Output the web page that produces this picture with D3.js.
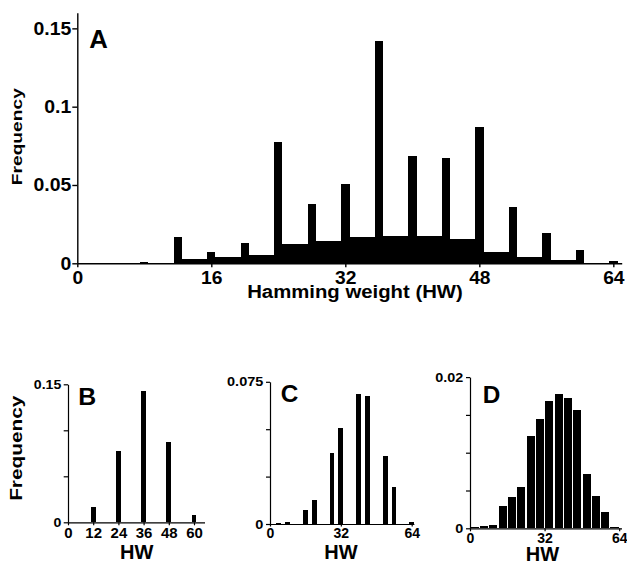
<!DOCTYPE html>
<html>
<head>
<meta charset="utf-8">
<script src="https://cdn.jsdelivr.net/npm/d3@7"></script>
<style>
body { margin: 0; background: #fff; }
text { font-family: Arial, "Liberation Sans", sans-serif; font-weight: bold; fill: #000; }
</style>
</head>
<body>
<div id="figure"></div>
<script>
//panel B: hamming weights that are multiples of 12
var hw_b = [12, 24, 36, 48, 60];
var freq_b = [0.0165, 0.0775, 0.1422, 0.0870, 0.0082];

//panel C: multiples of 4 that are not multiples of 12
var hw_c = [4, 8, 16, 20, 28, 32, 40, 44, 52, 56, 64];
var freq_c = [0.0004, 0.0009, 0.0073, 0.0128, 0.0376, 0.0505, 0.0685, 0.0673, 0.0361, 0.0194, 0.0013];

//panel D: the rest, grouped in 4-wide bins centred on 2, 6, ..., 62
var hw_d = [2, 6, 10, 14, 18, 22, 26, 30, 34, 38, 42, 46, 50, 54, 58, 62];
var freq_d = [0.00013, 0.00026, 0.00044, 0.0030, 0.0041, 0.0054, 0.0122, 0.0145, 0.0169, 0.0177, 0.0173, 0.0156, 0.0072, 0.0043, 0.0022, 0.0002];

//tick values and which of them get a label
var ticks_a_x = [0, 16, 32, 48, 64];
var ticks_a_y = [0, 0.05, 0.1, 0.15];
var ticks_b_x = [0, 12, 24, 36, 48, 60];
var ticks_b_y = [0, 0.05, 0.1, 0.15];
var labels_b_y = [0, 0.15];
var ticks_c_x = [0, 32, 64];
var ticks_c_y = [0, 0.025, 0.05, 0.075];
var labels_c_y = [0, 0.075];
var ticks_d_x = [0, 32, 64];
var ticks_d_y = [0, 0.005, 0.01, 0.015, 0.02];
var labels_d_y = [0, 0.02];

var svg;

//text with a horizontal stretch, optionally rotated
function addLabel(txt, x, y, size, sx, anchor, rotate)
{
    var t = "translate(" + x + "," + y + ")" + (rotate ? " rotate(-90)" : "") + " scale(" + sx + ",1)";
    svg.append("text")
        .attr("transform", t)
        .attr("text-anchor", anchor)
        .style("font-size", size + "px")
        .text(txt);
}

//bars for one panel: each entry has x0, x1 (in HW units) and v
function drawPanel(p)
{
    var x = d3.scaleLinear().domain([0, 65]).range(p.xr);
    var y = d3.scaleLinear().domain([0, p.ymax]).range(p.yr);
    var g = svg.append("g");

    g.selectAll("rect")
        .data(p.bars)
        .enter()
        .append("rect")
        .attr("x", function(d) { return x(d.x0); })
        .attr("width", function(d) { return x(d.x1) - x(d.x0); })
        .attr("y", function(d) { return y(d.v); })
        .attr("height", function(d) { return y(0) - y(d.v); })
        .attr("shape-rendering", "crispEdges")
        .style("fill", "#000");

    var labelled = p.ylabels;
    var yAxis = d3.axisLeft(y)
        .tickValues(p.yticks)
        .tickSize(p.ya[0])
        .tickPadding(p.ya[1])
        .tickSizeOuter(0)
        .tickFormat(function(d) { return (!labelled || labelled.indexOf(d) >= 0) ? String(d) : ""; });
    var ya = g.append("g").attr("transform", "translate(" + p.xr[0] + ",0)").call(yAxis);
    ya.selectAll("text")
        .style("font-size", p.ya[2] + "px")
        .attr("x", -(p.ya[0] + p.ya[1]) / p.ya[3])
        .attr("transform", "scale(" + p.ya[3] + ",1)");

    var xAxis = d3.axisBottom(x)
        .tickValues(p.xticks)
        .tickSize(p.xa[0])
        .tickPadding(p.xa[1])
        .tickSizeOuter(0)
        .tickFormat(d3.format("d"));
    var xa = g.append("g").attr("transform", "translate(0," + p.yr[0] + ")").call(xAxis);
    xa.selectAll("text")
        .style("font-size", p.xa[2] + "px")
        .attr("transform", "scale(" + p.xa[3] + ",1)");

    g.selectAll(".domain").attr("stroke", "#000").attr("stroke-width", p.lw);
    g.selectAll(".tick line").attr("stroke", "#000").attr("stroke-width", p.lw);
}

//narrow bars centred on each HW value
function spikes(hw, freq, w)
{
    return hw.map(function(h, i) { return {x0: h - w / 2, x1: h + w / 2, v: freq[i]}; });
}

function setUpFigure()
{
    svg = d3.select("#figure")
        .append("svg")
        .attr("width", 627)
        .attr("height", 565);

    //panel A: the grouped levels span 3 HW values, the spikes 1
    var bars_a = spikes(hw_d, freq_d, 3).concat(spikes(hw_b, freq_b, 1)).concat(spikes(hw_c, freq_c, 1));
    drawPanel({bars: bars_a, xr: [77.3, 621.7], yr: [263.3, 12.7], ymax: 0.16,
        xticks: ticks_a_x, yticks: ticks_a_y, ylabels: null,
        ya: [5, 1, 18, 1.08], xa: [4, 3.8, 17.5, 1.1], lw: 1.4});
    addLabel("A", 89.3, 48.3, 25, 1.03, "start", false);
    addLabel("Frequency", 22, 136.7, 15, 1.28, "middle", true);
    addLabel("Hamming weight (HW)", 355, 297.5, 18, 1.13, "middle", false);

    drawPanel({bars: spikes(hw_b, freq_b, 2.2), xr: [68, 204.5], yr: [522.3, 384.3], ymax: 0.15,
        xticks: ticks_b_x, yticks: ticks_b_y, ylabels: labels_b_y,
        ya: [4.3, 2.4, 12.5, 1.13], xa: [3, 3, 14, 1.07], lw: 1.2});
    addLabel("B", 78.3, 405, 23, 1.08, "start", false);
    addLabel("Frequency", 21.6, 448.3, 16, 1.3, "middle", true);
    addLabel("HW", 136.7, 558.5, 20, 1, "middle", false);

    drawPanel({bars: spikes(hw_c, freq_c, 2.2), xr: [270, 413.9], yr: [524, 381.8], ymax: 0.075,
        xticks: ticks_c_x, yticks: ticks_c_y, ylabels: labels_c_y,
        ya: [4, 2.7, 12.5, 1.16], xa: [2.5, 2, 14, 1.0], lw: 1.2});
    addLabel("C", 280.7, 401.7, 23, 1.06, "start", false);
    addLabel("HW", 341, 558.5, 20, 1, "middle", false);

    drawPanel({bars: spikes(hw_d, freq_d, 3.45), xr: [470, 621.5], yr: [528.3, 377.1], ymax: 0.02,
        xticks: ticks_d_x, yticks: ticks_d_y, ylabels: labels_d_y,
        ya: [4, 2.7, 12.5, 1.15], xa: [3, 1.5, 14, 1.0], lw: 1.2});
    addLabel("D", 482.7, 403.3, 23, 1.06, "start", false);
    addLabel("HW", 542.5, 560.5, 20, 1, "middle", false);
}

setUpFigure();
</script>
</body>
</html>
